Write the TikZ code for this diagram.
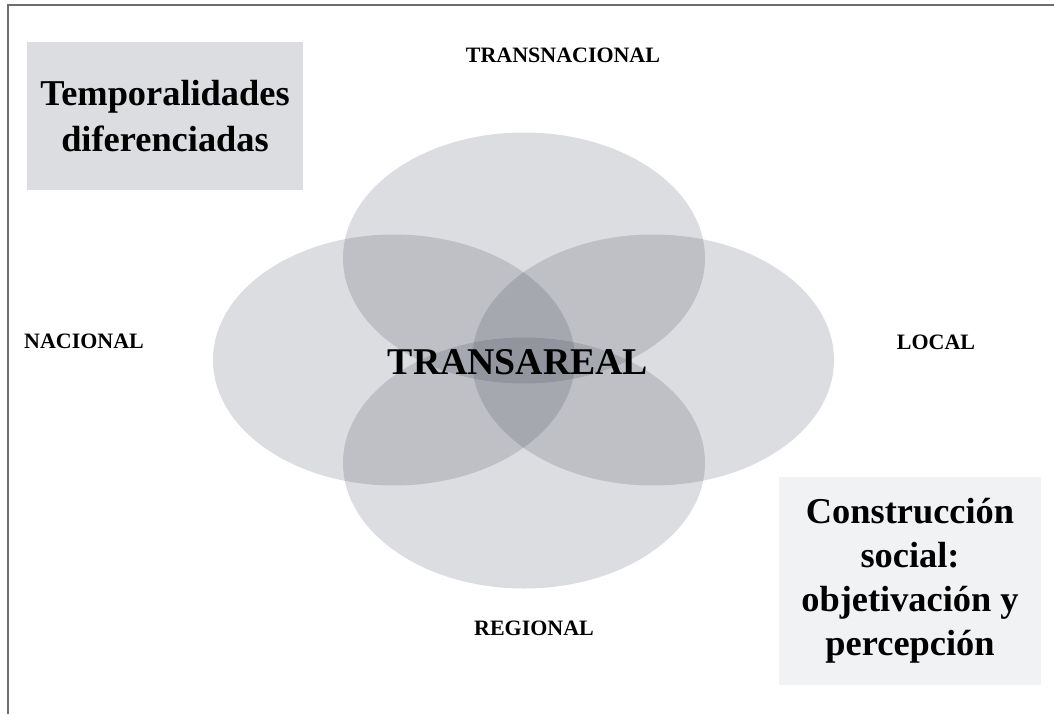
\documentclass[tikz,border=0pt]{standalone}
\usepackage{fontspec}
\setmainfont{Liberation Serif}

\definecolor{ovaltint}{rgb}{0.144,0.16,0.24}
\definecolor{boxgray}{HTML}{DCDDE0}
\definecolor{boxlight}{HTML}{F1F2F4}
\definecolor{framegray}{HTML}{6E6E6E}

\tikzset{
  oval/.style={fill=ovaltint, fill opacity=0.16},
  level/.style={font=\fontsize{12.5}{15}\selectfont\bfseries},
  bigbox/.style={inner sep=0pt, align=center, font=\fontsize{20.7}{26}\selectfont\bfseries}
}

\begin{document}
\begin{tikzpicture}
\useasboundingbox (0,0) rectangle (21.08,14.28);
\begin{scope}
	\draw[framegray, line width=1.1pt] (0.16,0) -- (0.16,14.18) -- (21.08,14.18);
	% the four overlapping areas
	\fill[oval] (10.48,9.12) ellipse (3.62 and 2.51);
	\fill[oval] (7.88,7.08) ellipse (3.62 and 2.51);
	\fill[oval] (13.06,7.08) ellipse (3.62 and 2.51);
	\fill[oval] (10.48,5.02) ellipse (3.62 and 2.51);
	\node[font=\fontsize{21.5}{26}\selectfont\bfseries] (transareal) at (10.36,7.04) {TRANSAREAL};
	\node[level] (transnacional) at (11.26,13.18) {TRANSNACIONAL};
	\node[level] (nacional) at (1.68,7.46) {NACIONAL};
	\node[level] (local) at (18.72,7.44) {LOCAL};
	\node[level] (regional) at (10.68,1.72) {REGIONAL};
	\node[bigbox, fill=boxgray, minimum width=5.52cm, minimum height=2.96cm] (tempo) at (3.30,11.96) {Temporalidades\\diferenciadas};
	\node[bigbox, fill=boxlight, minimum width=5.24cm, minimum height=4.16cm, font=\fontsize{20.7}{25}\selectfont\bfseries] (constr) at (18.20,2.66) {Construcción\\social:\\objetivación y\\percepción};
\end{scope}
\end{tikzpicture}
\end{document}
